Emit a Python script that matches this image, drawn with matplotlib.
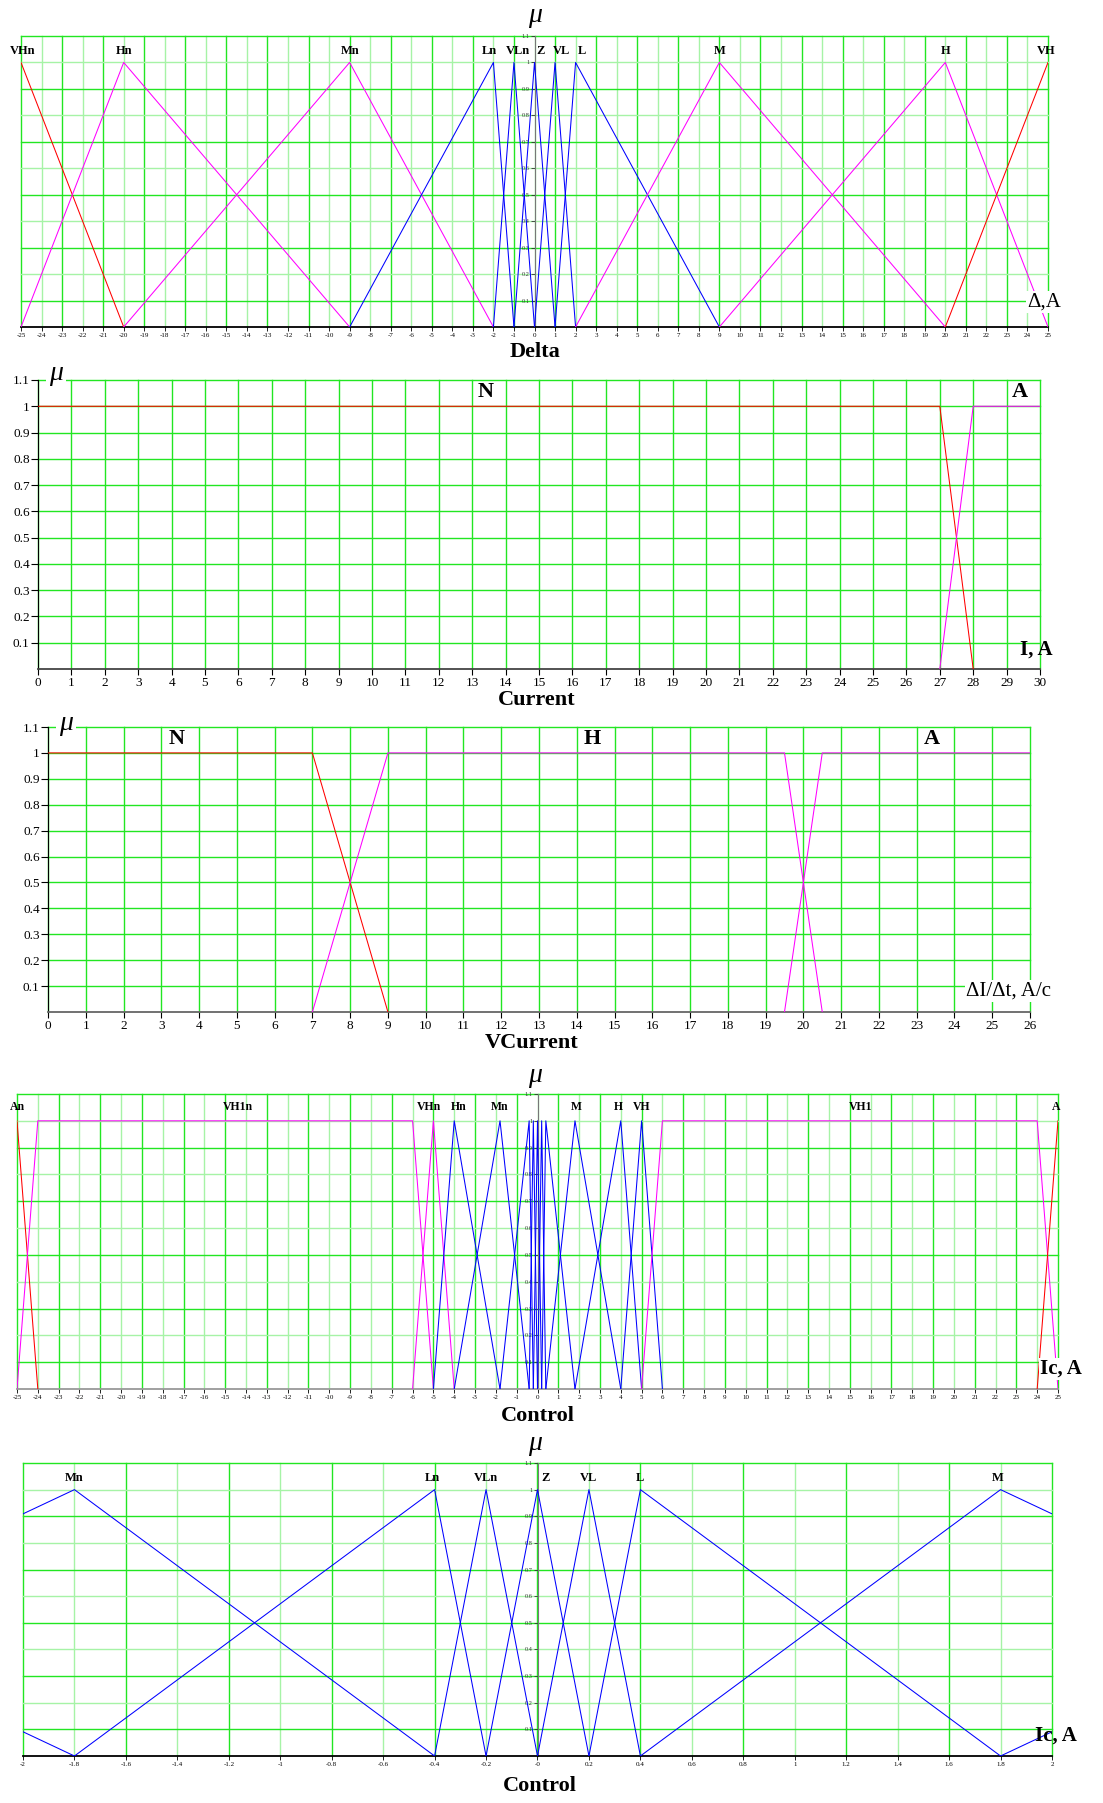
import matplotlib
matplotlib.use("Agg")
import matplotlib.pyplot as plt
import numpy as np

plt.rcParams['font.family'] = ['Liberation Serif', 'DejaVu Serif']

W, H = 1103, 1803
COLORS = {'r': '#ff0000', 'm': '#ff00ff', 'b': '#0000ff'}
GRID_DARK = '#22e622'
GRID_LIGHT = '#a6f3a6'

# --- Delta
delta_names = ['VHn', 'Hn', 'Mn', 'Ln', 'VLn', 'Z', 'VL', 'L', 'M', 'H', 'VH']
delta_pts = [[-25, -20], [-25, -20, -9], [-20, -9, -2], [-9, -2, -1], [-2, -1, 0],
             [-1, 0, 1], [0, 1, 2], [1, 2, 9], [2, 9, 20], [9, 20, 25], [20, 25]]
delta_mu = [[1, 0], [0, 1, 0], [0, 1, 0], [0, 1, 0], [0, 1, 0],
            [0, 1, 0], [0, 1, 0], [0, 1, 0], [0, 1, 0], [0, 1, 0], [0, 1]]
delta_col = ['r', 'm', 'm', 'b', 'b', 'b', 'b', 'b', 'm', 'm', 'r']
delta_lab_x = [-24.9, -20, -9, -2.2, -0.8, 0.3, 1.3, 2.3, 9, 20, 24.9]

# --- Current
current_names = ['N', 'A']
current_pts = [[0, 27, 28], [27, 28, 30]]
current_mu = [[1, 1, 0], [0, 1, 1]]
current_col = ['r', 'm']
current_lab_x = [13.4, 29.4]

# --- VCurrent
vcur_names = ['N', 'H', 'A']
vcur_pts = [[0, 7, 9], [7, 9, 19.5, 20.5], [19.5, 20.5, 26]]
vcur_mu = [[1, 1, 0], [0, 1, 1, 0], [0, 1, 1]]
vcur_col = ['r', 'm', 'm']
vcur_lab_x = [3.4, 14.4, 23.4]

# --- Control
ctrl_names = ['An', 'VH1n', 'VHn', 'Hn', 'Mn', 'Ln', 'VLn', 'Z', 'VL', 'L', 'M', 'H', 'VH', 'VH1', 'A']
ctrl_pts = [[-25, -24], [-25, -24, -6, -5], [-6, -5, -4], [-5, -4, -1.8], [-4, -1.8, -0.4],
            [-1.8, -0.4, -0.2], [-0.4, -0.2, 0], [-0.2, 0, 0.2], [0, 0.2, 0.4], [0.2, 0.4, 1.8],
            [0.4, 1.8, 4], [1.8, 4, 5], [4, 5, 6], [5, 6, 24, 25], [24, 25]]
ctrl_mu = [[1, 0], [0, 1, 1, 0], [0, 1, 0], [0, 1, 0], [0, 1, 0],
           [0, 1, 0], [0, 1, 0], [0, 1, 0], [0, 1, 0], [0, 1, 0],
           [0, 1, 0], [0, 1, 0], [0, 1, 0], [0, 1, 1, 0], [0, 1]]
ctrl_col = ['r', 'm', 'm', 'b', 'b', 'b', 'b', 'b', 'b', 'b', 'b', 'b', 'b', 'm', 'r']
ctrl_lab_x_wide = [-25, -14.4, -5.2, -3.8, -1.8, None, None, None, None, None, 1.85, 3.9, 5.0, 15.5, 24.9]
ctrl_lab_x_zoom = [None, None, None, None, -1.8, -0.41, -0.2, 0.03, 0.2, 0.4, 1.79, None, None, None, None]


def fx(x):
    return x / W


def fy(y):
    return 1 - y / H


def make_axes(fig, l, r, t, b):
    return fig.add_axes([fx(l), fy(b), fx(r - l), (b - t) / H])


def draw_panel(ax, pts, mus, cols, xlim, xstep, center_axis, alt_grid, base_col='black'):
    ax.set_xlim(*xlim)
    ax.set_ylim(0, 1.1)
    xs = np.arange(xlim[0], xlim[1] + xstep / 2, xstep)
    # grille verte, une ligne sur deux plus claire sur les axes centres
    for i, x in enumerate(xs):
        c = GRID_LIGHT if (alt_grid and i % 2) else GRID_DARK
        ax.axvline(x, color=c, lw=1.0, zorder=1, clip_on=False)
    for i, y in enumerate(np.arange(0.1, 1.15, 0.1)):
        c = GRID_LIGHT if (alt_grid and i % 2) else GRID_DARK
        ax.axhline(y, color=c, lw=1.0, zorder=1, clip_on=False)
    for p, m, c in zip(pts, mus, cols):
        ax.plot(p, m, color=COLORS[c], lw=0.75, zorder=3)
    ax.spines['top'].set_visible(False)
    ax.spines['right'].set_visible(False)
    ax.spines['bottom'].set_color(base_col)
    ax.spines['bottom'].set_linewidth(1.3)
    ax.set_xticks(xs)
    ax.set_yticks(np.arange(0.1, 1.15, 0.1))
    ax.yaxis.set_major_formatter(plt.FuncFormatter(lambda v, _: '%g' % round(v, 1)))
    ax.xaxis.set_major_formatter(plt.FuncFormatter(lambda v, _: '%g' % round(v, 1)))
    if center_axis:
        ax.spines['left'].set_position(('data', 0))
        ax.spines['left'].set_color('#777777')
        ax.spines['left'].set_zorder(2)
        ax.tick_params(axis='y', labelsize=4.5, length=3, width=0.6, pad=0.5, colors='#333333')
        ax.tick_params(axis='x', labelsize=5, length=3, width=0.6, pad=1.5)
    else:
        ax.spines['left'].set_color('black')
        ax.tick_params(axis='y', labelsize=9.5, length=5, width=0.8, pad=1)
        ax.tick_params(axis='x', labelsize=9.5, length=4, width=0.8, pad=2)
    ax.patch.set_alpha(0)


def put_labels(ax, names, lab_x, y, size):
    for n, x in zip(names, lab_x):
        if x is None:
            continue
        ax.text(x, y, n, ha='center', va='center', fontsize=size, fontweight='bold', zorder=5)


def ftext(fig, x, y, s, **kw):
    fig.text(fx(x), fy(y), s, **kw)


fig = plt.figure(figsize=(W / 100, H / 100), dpi=100)

# Panel 1: Delta
ax1 = make_axes(fig, 21, 1048, 36, 327)
draw_panel(ax1, delta_pts, delta_mu, delta_col, (-25, 25), 1, True, True)
put_labels(ax1, delta_names, delta_lab_x, 1.045, 9)
ftext(fig, 535, 352, 'Delta', ha='center', va='center', fontsize=16, fontweight='bold')
ftext(fig, 535, 16, 'μ', ha='center', va='center', fontsize=20, style='italic')
ftext(fig, 1027, 302, 'Δ,A', ha='left', va='center', fontsize=15,
      bbox=dict(facecolor='white', edgecolor='none', pad=1))

# Panel 2: Current
ax2 = make_axes(fig, 38, 1040, 380, 669)
draw_panel(ax2, current_pts, current_mu, current_col, (0, 30), 1, False, False, '#444444')
put_labels(ax2, current_names, current_lab_x, 1.055, 16)
ftext(fig, 537, 700, 'Current', ha='center', va='center', fontsize=16, fontweight='bold')
ftext(fig, 56, 374, 'μ', ha='center', va='center', fontsize=20, style='italic',
      bbox=dict(facecolor='white', edgecolor='none', pad=2))
ftext(fig, 1020, 650, 'I, A', ha='left', va='center', fontsize=15, fontweight='bold')

# Panel 3: VCurrent
ax3 = make_axes(fig, 48, 1030, 727, 1012)
draw_panel(ax3, vcur_pts, vcur_mu, vcur_col, (0, 26), 1, False, False, '#666666')
put_labels(ax3, vcur_names, vcur_lab_x, 1.055, 16)
ftext(fig, 532, 1043, 'VCurrent', ha='center', va='center', fontsize=16, fontweight='bold')
ftext(fig, 66, 724, 'μ', ha='center', va='center', fontsize=20, style='italic',
      bbox=dict(facecolor='white', edgecolor='none', pad=2))
ftext(fig, 966, 991, 'ΔI/Δt, A/c', ha='left', va='center', fontsize=15,
      bbox=dict(facecolor='white', edgecolor='none', pad=1))

# Panel 4: Control
ax4 = make_axes(fig, 17, 1058, 1094, 1389)
draw_panel(ax4, ctrl_pts, ctrl_mu, ctrl_col, (-25, 25), 1, True, True, '#999999')
put_labels(ax4, ctrl_names, ctrl_lab_x_wide, 1.053, 8.5)
ftext(fig, 538, 1416, 'Control', ha='center', va='center', fontsize=16, fontweight='bold')
ftext(fig, 535, 1075, 'μ', ha='center', va='center', fontsize=20, style='italic')
ftext(fig, 1040, 1369, 'Ic, A', ha='left', va='center', fontsize=15, fontweight='bold',
      bbox=dict(facecolor='white', edgecolor='none', pad=1))

# Panel 5: Control, zoom autour de zero
ax5 = make_axes(fig, 23, 1052, 1463, 1756)
draw_panel(ax5, ctrl_pts, ctrl_mu, ctrl_col, (-2, 2), 0.2, True, True)
put_labels(ax5, ctrl_names, ctrl_lab_x_zoom, 1.044, 9)
ftext(fig, 540, 1786, 'Control', ha='center', va='center', fontsize=16, fontweight='bold')
ftext(fig, 535, 1443, 'μ', ha='center', va='center', fontsize=20, style='italic')
ftext(fig, 1035, 1736, 'Ic, A', ha='left', va='center', fontsize=15, fontweight='bold')

fig.savefig('out.png', dpi=100)
